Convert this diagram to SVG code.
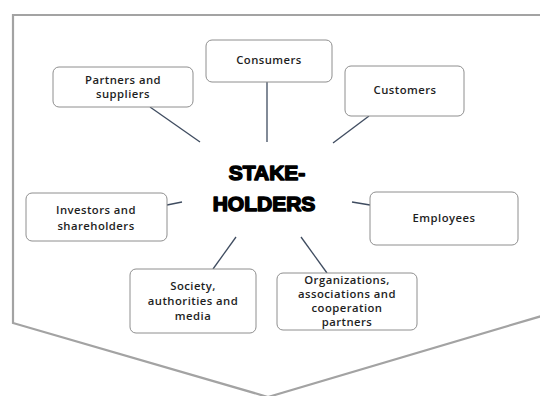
<svg xmlns="http://www.w3.org/2000/svg" width="540" height="396" viewBox="0 0 540 396">
  <style>
    .frame { fill: none; stroke: #a3a3a3; stroke-width: 2.2; }
    .box { fill: #ffffff; stroke: #8e8e8e; stroke-width: 1; }
    .lbl { font-family: "Open Sans", "Liberation Sans", sans-serif; font-size: 11.3px; font-weight: 600; letter-spacing: 0.45px; fill: #1e1e1e; text-anchor: middle; }
    .hub { font-family: "Liberation Sans", Arial, sans-serif; font-size: 21px; font-weight: bold; fill: #000; stroke: #000; stroke-width: 1.5; stroke-linejoin: round; text-anchor: middle; }
    .link { stroke: #3f4c60; stroke-width: 1.3; fill: none; }
  </style>
  <rect width="540" height="396" fill="#ffffff"/>

  <!-- chevron-shaped frame -->
  <path class="frame" d="M545,15 L13,15 L13,323 L268,397 L545,315"/>

  <!-- connectors -->
  <g id="connectors">
    <line class="link" x1="150" y1="107" x2="200" y2="142"/>
    <line class="link" x1="267" y1="82" x2="267" y2="142"/>
    <line class="link" x1="369" y1="116" x2="333" y2="143"/>
    <line class="link" x1="167" y1="205" x2="182" y2="202"/>
    <line class="link" x1="352" y1="202" x2="370" y2="205"/>
    <line class="link" x1="236" y1="237" x2="213" y2="269"/>
    <line class="link" x1="301" y1="237" x2="327" y2="273"/>
  </g>

  <g id="hub">
    <text class="hub" x="267" y="180">STAKE-</text>
    <text class="hub" x="264" y="211">HOLDERS</text>
  </g>

  <g id="partners">
    <rect class="box" x="53" y="67" width="140" height="40" rx="6"/>
    <text class="lbl" x="123" y="83.5">Partners and</text>
    <text class="lbl" x="123" y="97.5">suppliers</text>
  </g>

  <g id="consumers">
    <rect class="box" x="206" y="40" width="126" height="42" rx="6"/>
    <text class="lbl" x="269" y="64">Consumers</text>
  </g>

  <g id="customers">
    <rect class="box" x="345" y="66" width="119" height="50" rx="6"/>
    <text class="lbl" x="405" y="94">Customers</text>
  </g>

  <g id="investors">
    <rect class="box" x="26" y="193" width="141" height="48" rx="6"/>
    <text class="lbl" x="96" y="214">Investors and</text>
    <text class="lbl" x="96" y="230">shareholders</text>
  </g>

  <g id="employees">
    <rect class="box" x="370" y="192" width="148" height="53" rx="6"/>
    <text class="lbl" x="444" y="222">Employees</text>
  </g>

  <g id="society">
    <rect class="box" x="130" y="269" width="126" height="64" rx="6"/>
    <text class="lbl" x="193" y="290">Society,</text>
    <text class="lbl" x="193" y="305">authorities and</text>
    <text class="lbl" x="193" y="320">media</text>
  </g>

  <g id="organizations">
    <rect class="box" x="277" y="273" width="140" height="57" rx="6"/>
    <text class="lbl" x="347" y="283.5">Organizations,</text>
    <text class="lbl" x="347" y="297.5">associations and</text>
    <text class="lbl" x="347" y="311.5">cooperation</text>
    <text class="lbl" x="347" y="325.5">partners</text>
  </g>
</svg>
